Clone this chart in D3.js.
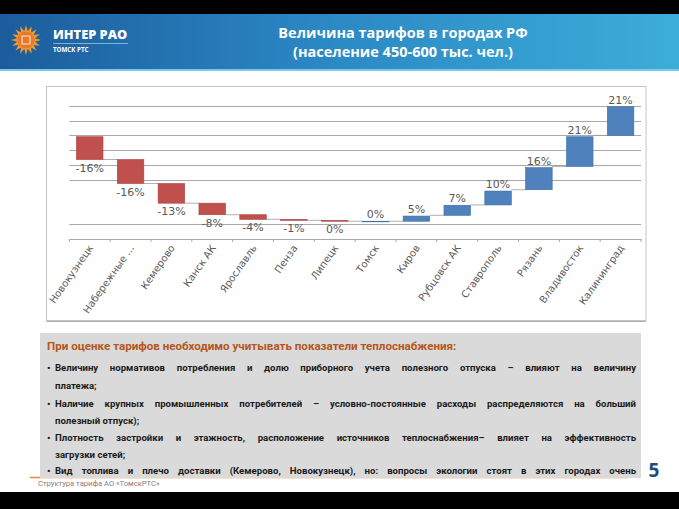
<!DOCTYPE html>
<html><head><meta charset="utf-8">
<script src="https://cdn.jsdelivr.net/npm/d3@7"></script>
<style>
body{margin:0;background:#fff;width:679px;height:509px;overflow:hidden;position:relative;font-family:"Open Sans",sans-serif}
#box{position:absolute;left:40px;top:333px;width:601px;height:145px;background:#dadada;overflow:hidden}
.ln{position:absolute;white-space:nowrap;font-family:Roboto,"Open Sans",sans-serif;font-weight:bold;font-size:9.6px;line-height:12px;color:#1a1a1a}
.full{text-align:justify;text-align-last:justify;white-space:normal}
#svg{position:absolute;left:0;top:0}
</style></head><body>
<svg id="svg" width="679" height="509"></svg>
<div id="box"></div>
<script>
// ---- chart data ----
const categories = ["Новокузнецк","Набережные ...","Кемерово","Канск АК","Ярославль","Пенза","Липецк","Томск","Киров","Рубцовск АК","Ставрополь","Рязань","Владивосток","Калининград"];
const valueLabels = ["-16%","-16%","-13%","-8%","-4%","-1%","0%","0%","5%","7%","10%","16%","21%","21%"];
const barFrom = [6.91,5.37,3.75,2.42,1.64,1.33,1.26,1.2,1.2,1.6,2.3,3.33,4.9,7.0];
const barTo   = [5.37,3.75,2.42,1.64,1.33,1.26,1.2,1.2,1.55,2.28,3.24,4.82,6.91,8.94];
const barKind = ["neg","neg","neg","neg","neg","neg","neg","pos","pos","pos","pos","pos","pos","pos"];
const gridValues = [1,4,5,6,7,8,9];
// ---- text data ----
const titleLines = ["Величина тарифов в городах РФ","(население 450-600 тыс. чел.)"];
const boxHeading = "При оценке тарифов необходимо учитывать показатели теплоснабжения:";
const boxLines = [
 {b:true, t:"Величину нормативов потребления и долю приборного учета полезного отпуска – влияют на величину", full:true},
 {b:false,t:"платежа;", full:false},
 {b:true, t:"Наличие крупных промышленных потребителей – условно-постоянные расходы распределяются на больший", full:true},
 {b:false,t:"полезный отпуск);", full:false},
 {b:true, t:"Плотность застройки и этажность, расположение источников теплоснабжения– влияет на эффективность", full:true},
 {b:false,t:"загрузки сетей;", full:false},
 {b:true, t:"Вид топлива и плечо доставки (Кемерово, Новокузнецк), но: вопросы экологии стоят в этих городах очень", full:true}
];

const svg = d3.select("#svg");
const defs = svg.append("defs");
const g1 = defs.append("linearGradient").attr("id","hdr").attr("x1","0").attr("x2","1").attr("y1","0").attr("y2","0");
g1.append("stop").attr("offset","0").attr("stop-color","#1c5c9c");
g1.append("stop").attr("offset","0.45").attr("stop-color","#2a86c2");
g1.append("stop").attr("offset","1").attr("stop-color","#3cadd9");

// black bands
svg.append("rect").attr("x",0).attr("y",0).attr("width",679).attr("height",14).attr("fill","#000");
svg.append("rect").attr("x",0).attr("y",492).attr("width",679).attr("height",17).attr("fill","#000");
// header
svg.append("rect").attr("x",0).attr("y",14).attr("width",679).attr("height",55).attr("fill","url(#hdr)");
svg.append("rect").attr("x",0).attr("y",69).attr("width",679).attr("height",2).attr("fill","#7cc8ea");

// logo
const sun = svg.append("g").attr("transform","translate(26,40)");
const pts = [];
for(let i=0;i<32;i++){const r = i%2===0?15:9; const a = i*Math.PI/16 - Math.PI/2; pts.push([r*Math.cos(a), r*Math.sin(a)]);}
sun.append("polygon").attr("points",pts.map(p=>p.join(",")).join(" ")).attr("fill","#f49a2c");
sun.append("circle").attr("r",8.5).attr("fill","#e9772a");
sun.append("path").attr("d","M-4,-4 L4,-4 L4,4 L-4,4 Z").attr("fill","none").attr("stroke","#fde3c4").attr("stroke-width",1.2);
svg.append("text").attr("x",53).attr("y",38.5).attr("fill","#fff").attr("font-family","Open Sans").attr("font-weight","800").attr("font-size","12.8px").text("ИНТЕР РАО");
svg.append("line").attr("x1",53).attr("x2",128).attr("y1",43.5).attr("y2",43.5).attr("stroke","#9cc3e3").attr("stroke-width",0.8);
svg.append("text").attr("x",53).attr("y",51.5).attr("fill","#fff").attr("font-family","Open Sans").attr("font-weight","bold").attr("font-size","6.2px").text("ТОМСК РТС");

// title
svg.selectAll("text.title").data(titleLines).join("text").attr("class","title")
  .attr("x",403).attr("y",(d,i)=>38+i*19).attr("text-anchor","middle").attr("fill","#fff")
  .attr("font-family","Open Sans").attr("font-weight","bold").attr("font-size","14.5px").text(d=>d);

// chart frame
svg.append("rect").attr("x",46.5).attr("y",86.5).attr("width",599.5).attr("height",234).attr("fill","#fff").attr("stroke","#c4c4c4").attr("stroke-width",1);
svg.append("line").attr("x1",46.5).attr("x2",646).attr("y1",321.5).attr("y2",321.5).attr("stroke","#b0b0b0").attr("stroke-width",1.2);

const x = d3.scaleBand().domain(categories).range([69.3,641]).paddingInner(0.35).paddingOuter(0.175);
const y = d3.scaleLinear().domain([0,9]).range([239,105.8]);
const chart = svg.append("g");

chart.selectAll("line.grid").data(gridValues).join("line").attr("class","grid")
  .attr("x1",69.3).attr("x2",641).attr("y1",d=>Math.round(y(d))+0.5).attr("y2",d=>Math.round(y(d))+0.5)
  .attr("stroke","#a8a8a8").attr("stroke-width",1);

// axis
const ax = chart.append("g").attr("transform","translate(0,239)")
  .call(d3.axisBottom(x).tickSize(0).tickSizeOuter(0));
ax.select(".domain").attr("stroke","#a8a8a8");
ax.selectAll(".tick text").attr("x",0).attr("y",0).attr("dy",0)
  .attr("transform","translate(4,9) rotate(-55)").attr("text-anchor","end")
  .attr("font-family","DejaVu Sans").attr("font-size","10px").attr("fill","#5a5a5a");
const step = x.step();
const bounds = d3.range(categories.length+1).map(i=>x.range()[0]+i*step);
ax.selectAll("line.bt").data(bounds).join("line").attr("class","bt")
  .attr("x1",d=>d).attr("x2",d=>d).attr("y1",0).attr("y2",3).attr("stroke","#a8a8a8");

// connectors
const idx = d3.range(categories.length-1);
chart.selectAll("line.conn").data(idx).join("line").attr("class","conn")
  .attr("x1",i=>x(categories[i])+x.bandwidth()).attr("x2",i=>x(categories[i+1]))
  .attr("y1",i=>y(barFrom[i+1])).attr("y2",i=>y(barFrom[i+1]))
  .attr("stroke","#9a9a9a").attr("stroke-width",0.8);

// bars
const data = categories.map((c,i)=>({c,i,from:barFrom[i],to:barTo[i],kind:barKind[i],label:valueLabels[i]}));
chart.selectAll("rect.bar").data(data).join("rect").attr("class","bar")
  .attr("x",d=>x(d.c)).attr("width",x.bandwidth())
  .attr("y",d=>y(Math.max(d.from,d.to))).attr("height",d=>Math.max(0.6,Math.abs(y(d.from)-y(d.to))))
  .attr("fill",d=>d.kind==="neg"?"#c0504d":"#4f81bd")
  .attr("stroke",d=>d.kind==="neg"?"#a9403d":"#3d6da6").attr("stroke-width",0.6);

chart.selectAll("text.vl").data(data).join("text").attr("class","vl")
  .attr("x",d=>x(d.c)+x.bandwidth()/2)
  .attr("y",d=>d.kind==="neg"? y(Math.min(d.from,d.to))+12 : y(Math.max(d.from,d.to))-3)
  .attr("text-anchor","middle").attr("font-family","DejaVu Sans").attr("font-size","11px").attr("fill","#595959")
  .text(d=>d.label);

// orange line & footer
svg.append("line").attr("x1",30).attr("x2",628).attr("y1",477.5).attr("y2",477.5).attr("stroke","#e8873a").attr("stroke-width",1.5);
svg.append("text").attr("x",38).attr("y",485.5).attr("fill","#7f7f7f").attr("font-family","Roboto").attr("font-size","7.6px").text("Структура тарифа АО «ТомскРТС»");
svg.append("text").attr("x",654).attr("y",477).attr("text-anchor","middle").attr("fill","#1f4e79").attr("font-family","Open Sans").attr("font-weight","bold").attr("font-size","19px").text("5");

// text box
const box = d3.select("#box");
box.append("div").attr("class","ln").style("left","7px").style("top",(346-333-6)+"px").style("color","#b5561c").style("font-size","11.6px").text(boxHeading);
const lineY = [368,386,404,421,438,455,471];
boxLines.forEach((l,i)=>{
  if(l.b) box.append("div").attr("class","ln").style("left","7px").style("top",(lineY[i]-333-6)+"px").text("•");
  const dv = box.append("div").attr("class","ln"+(l.full?" full":"")).style("left","15px").style("top",(lineY[i]-333-6)+"px").text(l.t);
  if(l.full) dv.style("width","581px");
});
</script>
</body></html>
